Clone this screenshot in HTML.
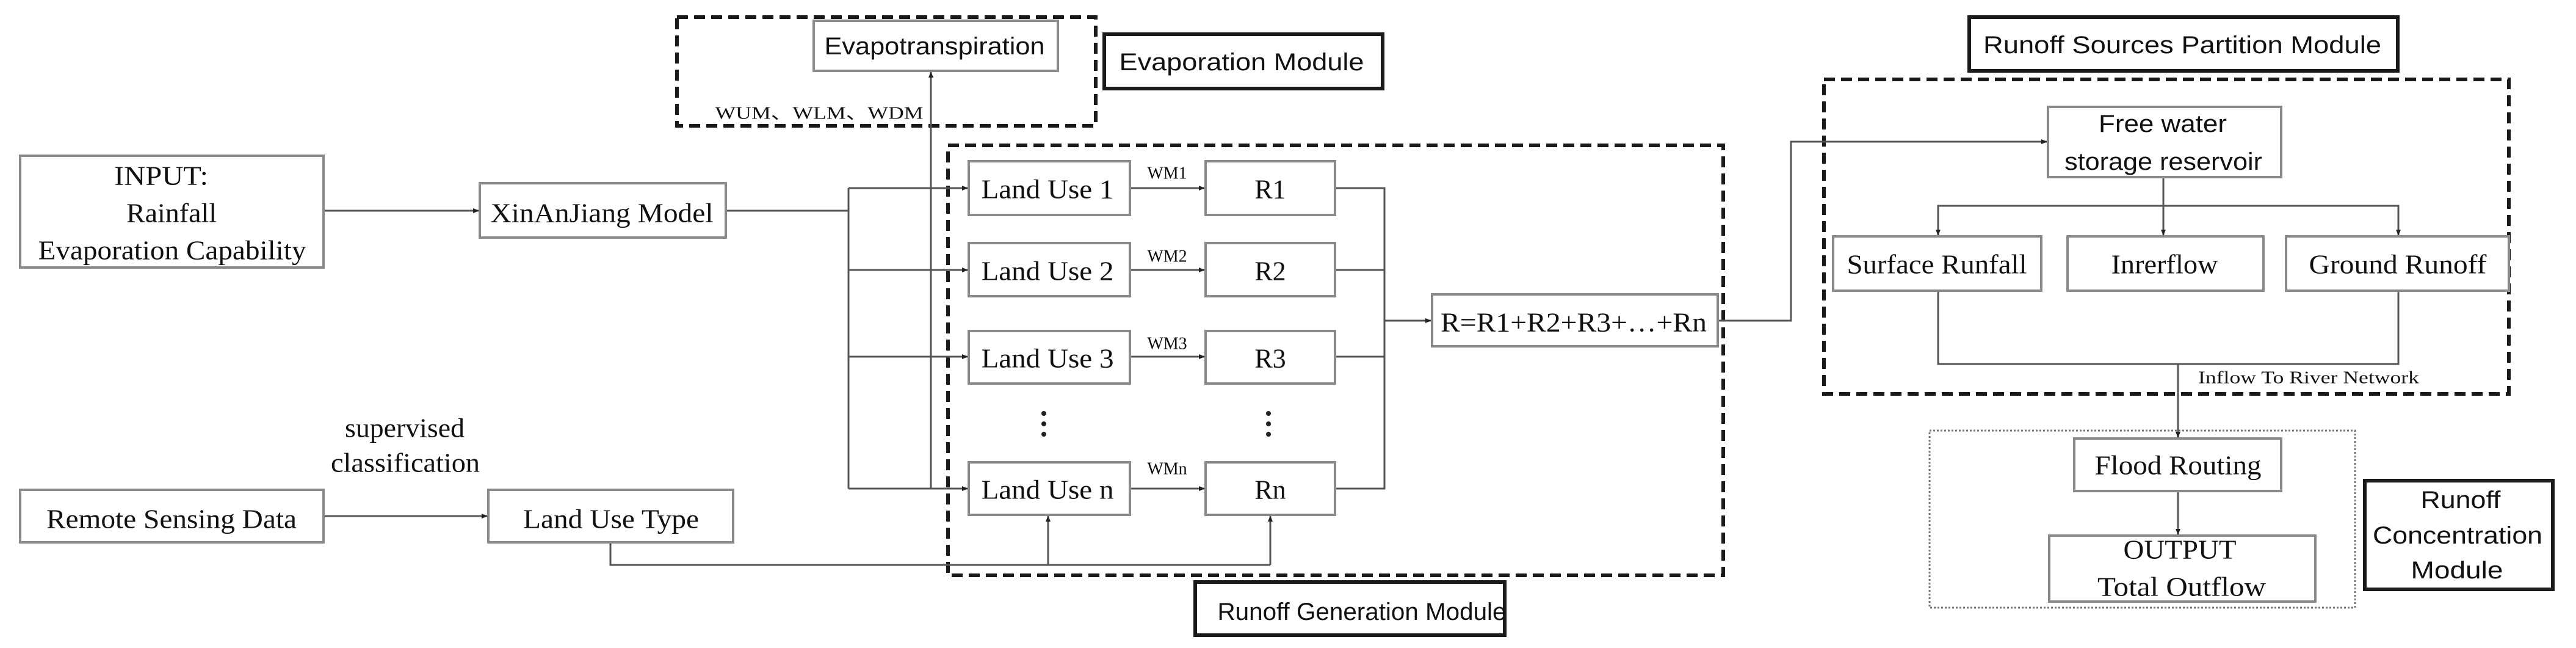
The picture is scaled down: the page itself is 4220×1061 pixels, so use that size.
<!DOCTYPE html>
<html><head><meta charset="utf-8"><style>
html,body{margin:0;padding:0;background:#fff;}
svg{display:block}
.b{fill:#fff;stroke:#8a8a8a;stroke-width:4}
.m{fill:#fff;stroke:#1a1a1a;stroke-width:6}
.d{fill:none;stroke:#1a1a1a;stroke-width:6;stroke-dasharray:18 10}
.l{fill:none;stroke:#555;stroke-width:3}
.s{font-family:"Liberation Serif",serif;font-size:44px;fill:#111;text-anchor:middle;dominant-baseline:central}
.ss{font-family:"Liberation Sans",sans-serif;font-size:40px;fill:#111;text-anchor:middle;dominant-baseline:central}
.w{font-family:"Liberation Serif",serif;font-size:28px;fill:#111;text-anchor:middle;dominant-baseline:central}
</style></head><body>
<svg width="4220" height="1061" viewBox="0 0 4220 1061" xmlns="http://www.w3.org/2000/svg">
<defs><marker id="a" markerWidth="10" markerHeight="10" refX="9" refY="5" orient="auto" markerUnits="userSpaceOnUse"><path d="M0,1 L10,5 L0,9z" fill="#222"/></marker></defs>

<!-- dashed modules -->
<rect class="d" x="1109" y="28" width="686" height="178"/>
<rect class="d" x="1553" y="238" width="1270" height="704"/>
<rect class="d" x="2988" y="130" width="1122" height="515"/>
<rect x="3161" y="705" width="697" height="290" fill="none" stroke="#777" stroke-width="3" stroke-dasharray="3 3"/>

<!-- module labels -->
<rect class="m" x="1809" y="56" width="456" height="89"/>
<text class="ss" x="2034" y="102" textLength="401" lengthAdjust="spacingAndGlyphs">Evaporation  Module</text>
<rect class="m" x="1958" y="953" width="507" height="87"/>
<text class="ss" x="2231" y="1002" textLength="473" lengthAdjust="spacingAndGlyphs">Runoff Generation Module</text>
<rect class="m" x="3226" y="28" width="702" height="88"/>
<text class="ss" x="3575" y="74" textLength="652" lengthAdjust="spacingAndGlyphs">Runoff  Sources Partition  Module</text>
<rect class="m" x="3874" y="787" width="308" height="178"/>
<text class="ss" x="4031" y="819" textLength="131" lengthAdjust="spacingAndGlyphs">Runoff</text>
<text class="ss" x="4026" y="877" textLength="278" lengthAdjust="spacingAndGlyphs">Concentration</text>
<text class="ss" x="4025" y="934" textLength="151" lengthAdjust="spacingAndGlyphs">Module</text>

<!-- connectors -->
<line class="l" x1="530" y1="345" x2="784" y2="345" marker-end="url(#a)"/>
<line class="l" x1="1189" y1="345" x2="1390" y2="345"/>
<line class="l" x1="1390" y1="308" x2="1390" y2="800"/>
<line class="l" x1="1390" y1="308" x2="1585" y2="308" marker-end="url(#a)"/>
<line class="l" x1="1390" y1="442" x2="1585" y2="442" marker-end="url(#a)"/>
<line class="l" x1="1390" y1="584" x2="1585" y2="584" marker-end="url(#a)"/>
<line class="l" x1="1390" y1="800" x2="1585" y2="800" marker-end="url(#a)"/>
<line class="l" x1="1525" y1="800" x2="1525" y2="118" marker-end="url(#a)"/>
<line class="l" x1="1851" y1="308" x2="1973" y2="308" marker-end="url(#a)"/>
<line class="l" x1="1851" y1="442" x2="1973" y2="442" marker-end="url(#a)"/>
<line class="l" x1="1851" y1="584" x2="1973" y2="584" marker-end="url(#a)"/>
<line class="l" x1="1851" y1="800" x2="1973" y2="800" marker-end="url(#a)"/>
<line class="l" x1="530" y1="845" x2="798" y2="845" marker-end="url(#a)"/>
<polyline class="l" points="1000,888 1000,925 2081,925"/>
<line class="l" x1="1717" y1="925" x2="1717" y2="845" marker-end="url(#a)"/>
<line class="l" x1="2081" y1="925" x2="2081" y2="845" marker-end="url(#a)"/>
<polyline class="l" points="2187,308 2268,308 2268,800 2187,800"/>
<line class="l" x1="2187" y1="442" x2="2268" y2="442"/>
<line class="l" x1="2187" y1="584" x2="2268" y2="584"/>
<line class="l" x1="2268" y1="525" x2="2344" y2="525" marker-end="url(#a)"/>
<polyline class="l" points="2814,525 2934,525 2934,232 3353,232" marker-end="url(#a)"/>
<line class="l" x1="3544" y1="290" x2="3544" y2="385" marker-end="url(#a)"/>
<polyline class="l" points="3175,385 3175,337 3929,337 3929,385" marker-end="url(#a)"/>
<line class="l" x1="3175" y1="337" x2="3175" y2="385" marker-end="url(#a)"/>
<polyline class="l" points="3175,476 3175,596 3929,596 3929,476"/>
<line class="l" x1="3568" y1="596" x2="3568" y2="716" marker-end="url(#a)"/>
<line class="l" x1="3568" y1="804" x2="3568" y2="875" marker-end="url(#a)"/>

<!-- boxes -->
<rect class="b" x="1333" y="34" width="400" height="82"/>
<text class="ss" x="1531" y="76" textLength="361" lengthAdjust="spacingAndGlyphs">Evapotranspiration</text>
<text class="w" x="1342" y="186" textLength="341" lengthAdjust="spacingAndGlyphs">WUM、WLM、WDM</text>

<rect class="b" x="33" y="255" width="497" height="183"/>
<text class="s" x="264" y="288" textLength="154" lengthAdjust="spacingAndGlyphs">INPUT:</text>
<text class="s" x="281" y="349" textLength="148" lengthAdjust="spacingAndGlyphs">Rainfall</text>
<text class="s" x="282" y="410" textLength="439" lengthAdjust="spacingAndGlyphs">Evaporation Capability</text>

<rect class="b" x="786" y="300" width="403" height="89"/>
<text class="s" x="986" y="349" textLength="365" lengthAdjust="spacingAndGlyphs">XinAnJiang Model</text>

<rect class="b" x="33" y="802" width="497" height="86"/>
<text class="s" x="281" y="850" textLength="410" lengthAdjust="spacingAndGlyphs">Remote Sensing Data</text>
<rect class="b" x="800" y="802" width="401" height="86"/>
<text class="s" x="1001" y="850" textLength="288" lengthAdjust="spacingAndGlyphs">Land Use Type</text>
<text class="s" x="663" y="701" textLength="196" lengthAdjust="spacingAndGlyphs">supervised</text>
<text class="s" x="664" y="758" textLength="244" lengthAdjust="spacingAndGlyphs">classification</text>

<rect class="b" x="1587" y="264" width="264" height="88"/>
<text class="s" x="1716" y="310" textLength="217" lengthAdjust="spacingAndGlyphs">Land Use 1</text>
<rect class="b" x="1587" y="398" width="264" height="87"/>
<text class="s" x="1716" y="444" textLength="217" lengthAdjust="spacingAndGlyphs">Land Use 2</text>
<rect class="b" x="1587" y="542" width="264" height="86"/>
<text class="s" x="1716" y="587" textLength="217" lengthAdjust="spacingAndGlyphs">Land Use 3</text>
<rect class="b" x="1587" y="757" width="264" height="86"/>
<text class="s" x="1716" y="802" textLength="217" lengthAdjust="spacingAndGlyphs">Land Use n</text>

<rect class="b" x="1975" y="264" width="212" height="88"/><text class="s" x="2081" y="310">R1</text>
<rect class="b" x="1975" y="398" width="212" height="87"/><text class="s" x="2081" y="444">R2</text>
<rect class="b" x="1975" y="542" width="212" height="86"/><text class="s" x="2081" y="587">R3</text>
<rect class="b" x="1975" y="757" width="212" height="86"/><text class="s" x="2081" y="802">Rn</text>

<text class="w" x="1912" y="284">WM1</text>
<text class="w" x="1912" y="420">WM2</text>
<text class="w" x="1912" y="563">WM3</text>
<text class="w" x="1912" y="768">WMn</text>

<g fill="#222"><circle cx="1710" cy="677" r="4"/><circle cx="1710" cy="694" r="4"/><circle cx="1710" cy="711" r="4"/>
<circle cx="2078" cy="677" r="4"/><circle cx="2078" cy="694" r="4"/><circle cx="2078" cy="711" r="4"/></g>

<rect class="b" x="2346" y="482" width="468" height="85"/>
<text class="s" x="2578" y="528" textLength="436" lengthAdjust="spacingAndGlyphs">R=R1+R2+R3+…+Rn</text>

<rect class="b" x="3355" y="175" width="382" height="115"/>
<text class="ss" x="3543" y="203" textLength="210" lengthAdjust="spacingAndGlyphs">Free water</text>
<text class="ss" x="3544" y="265" textLength="324" lengthAdjust="spacingAndGlyphs">storage reservoir</text>

<rect class="b" x="3003" y="387" width="341" height="89"/>
<text class="s" x="3173" y="433" textLength="295" lengthAdjust="spacingAndGlyphs">Surface Runfall</text>
<rect class="b" x="3387" y="387" width="321" height="89"/>
<text class="s" x="3546" y="433" textLength="175" lengthAdjust="spacingAndGlyphs">Inrerflow</text>
<rect class="b" x="3745" y="387" width="365" height="89"/>
<text class="s" x="3928" y="433" textLength="291" lengthAdjust="spacingAndGlyphs">Ground Runoff</text>

<text class="w" x="3782" y="619" textLength="362" lengthAdjust="spacingAndGlyphs">Inflow To River Network</text>

<rect class="b" x="3398" y="718" width="339" height="86"/>
<text class="s" x="3568" y="762" textLength="273" lengthAdjust="spacingAndGlyphs">Flood Routing</text>
<rect class="b" x="3357" y="877" width="436" height="108"/>
<text class="s" x="3571" y="900" textLength="185" lengthAdjust="spacingAndGlyphs">OUTPUT</text>
<text class="s" x="3574" y="961" textLength="276" lengthAdjust="spacingAndGlyphs">Total  Outflow</text>
</svg>
</body></html>
